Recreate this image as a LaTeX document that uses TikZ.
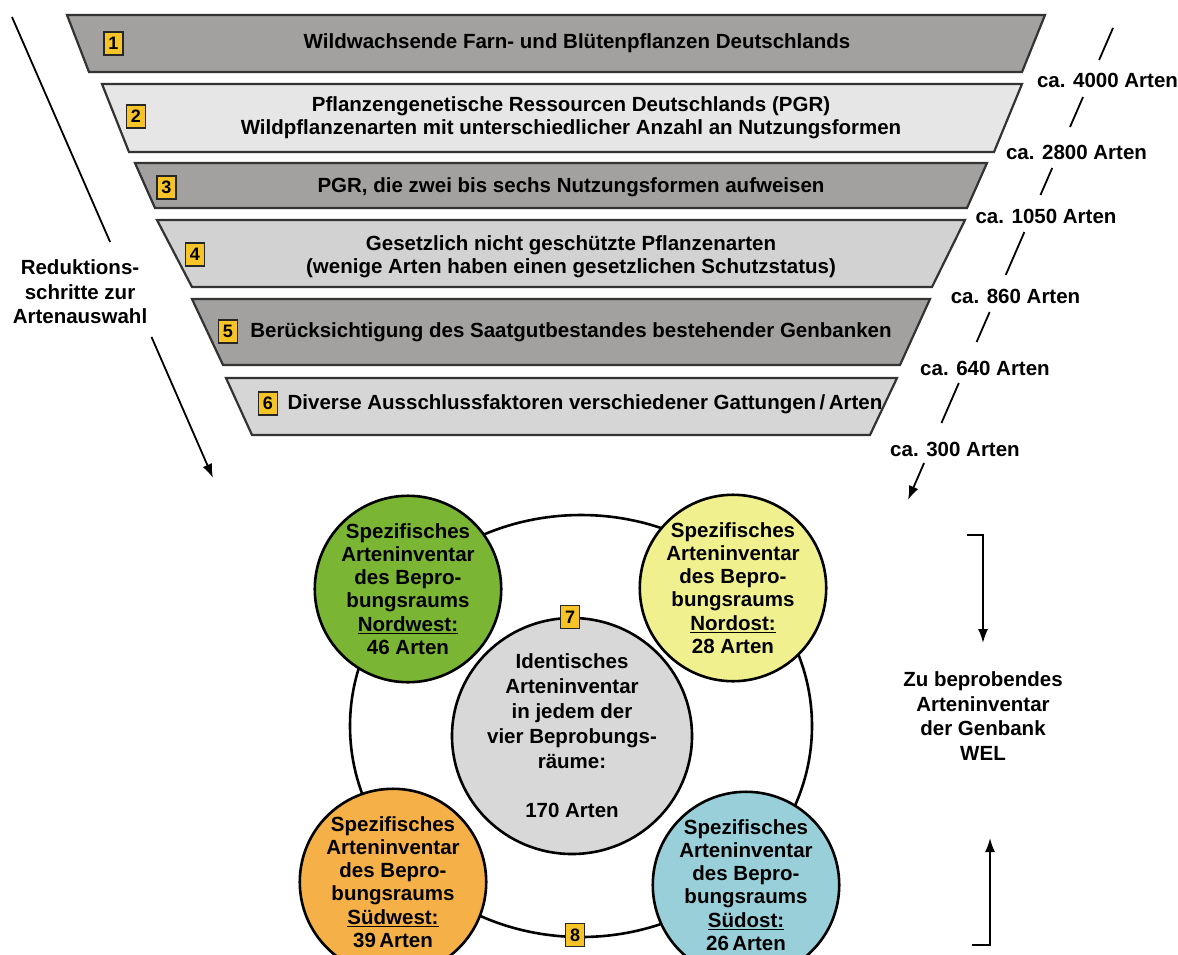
\documentclass[tikz,border=0pt]{standalone}
\usepackage{fontspec}
\setmainfont{Liberation Sans}
\usepackage{xcolor}
\usetikzlibrary{calc,
	positioning,
	shapes,
	arrows.meta}

\definecolor{banddark}{HTML}{A3A1A0}
\definecolor{bandlight}{HTML}{E6E6E6}
\definecolor{bandmid}{HTML}{D2D2D2}
\definecolor{bandpale}{HTML}{D6D6D6}
\definecolor{boxyellow}{HTML}{F7C428}
\definecolor{nwgreen}{HTML}{7AB534}
\definecolor{neyellow}{HTML}{F1F08E}
\definecolor{sworange}{HTML}{F5B047}
\definecolor{seblue}{HTML}{98CFD8}
\definecolor{commongray}{HTML}{D8D8D8}

\tikzset{
	band/.style={draw=black!80, line width=2.2pt, line join=miter},
	bandtext/.style={align=center, inner sep=0pt, font=\bfseries\fontsize{20.5}{23}\selectfont},
	sidetext/.style={align=center, inner sep=0pt, font=\bfseries\fontsize{20.5}{24.5}\selectfont},
	numbox/.style={draw=black!85, line width=1.8pt, fill=boxyellow, minimum width=19pt, minimum height=23pt, inner sep=0pt, font=\bfseries\fontsize{18}{18}\selectfont},
	region/.style={circle, draw=black, line width=2.6pt, align=center, inner sep=0pt, font=\bfseries\fontsize{20.5}{23.2}\selectfont},
	guide/.style={draw=black, line width=1.8pt},
	flow/.style={-{Latex[length=14pt,width=10pt]}}
}

\begin{document}
\begin{tikzpicture}[x=1pt, y=-1pt]
                        \useasboundingbox (0,0) rectangle (1178,954);
                        \clip (0,0) rectangle (1178,954);

                        \draw [band, fill=banddark] (67,15) -- (1045,15) -- (1022,72) -- (89,72) -- cycle;
                        \draw [band, fill=bandlight] (102,84) -- (1022,84) -- (994,152) -- (129,152) -- cycle;
                        \draw [band, fill=banddark] (135,163) -- (987,163) -- (967,208) -- (155,208) -- cycle;
                        \draw [band, fill=bandmid] (157,220) -- (965,220) -- (932,287) -- (192,287) -- cycle;
                        \draw [band, fill=banddark] (192,299) -- (930,299) -- (900,365) -- (223,365) -- cycle;
                        \draw [band, fill=bandpale] (226,378) -- (897,378) -- (870,435) -- (252,435) -- cycle;

                        \node (wild) [bandtext] at (577,43) {Wildwachsende Farn- und Blütenpflanzen Deutschlands};
                        \node (pgr) [bandtext] at (571,118) {Pflanzengenetische Ressourcen Deutschlands (PGR)\\Wildpflanzenarten mit unterschiedlicher Anzahl an Nutzungsformen};
                        \node (nutzung) [bandtext] at (571,187) {PGR, die zwei bis sechs Nutzungsformen aufweisen};
                        \node (schutz) [bandtext] at (571,257) {Gesetzlich nicht geschützte Pflanzenarten\\(wenige Arten haben einen gesetzlichen Schutzstatus)};
                        \node (genbank) [bandtext] at (571,332) {Berücksichtigung des Saatgutbestandes bestehender Genbanken};
                        \node (ausschluss) [bandtext] at (585,404) {Diverse Ausschlussfaktoren verschiedener Gattungen\,/\,Arten};

                        \node (num1) [numbox] at (113.5,43.5) {1};
                        \node (num2) [numbox] at (136,116.5) {2};
                        \node (num3) [numbox] at (166.5,187.5) {3};
                        \node (num4) [numbox] at (195,254.5) {4};
                        \node (num5) [numbox] at (228,331.5) {5};
                        \node (num6) [numbox] at (268,403.5) {6};

                        \node (reduktion) [sidetext] at (80,292) {Reduktions-\\schritte zur\\Artenauswahl};
                        \coordinate (ltop) at (12,17);
                        \coordinate (lbot) at (213,478);
                        \draw [guide] (ltop) -- ($(ltop)!0.488!(lbot)$);
                        \draw [guide, flow] ($(ltop)!0.694!(lbot)$) -- (lbot);

                        \node (ca4000) [sidetext] at (1107.5,80) {ca. 4000 Arten};
                        \node (ca2800) [sidetext] at (1076.5,152) {ca. 2800 Arten};
                        \node (ca1050) [sidetext] at (1046,216) {ca. 1050 Arten};
                        \node (ca860) [sidetext] at (1015.5,296) {ca. 860 Arten};
                        \node (ca640) [sidetext] at (985,368) {ca. 640 Arten};
                        \node (ca300) [sidetext] at (955,449) {ca. 300 Arten};
                        \coordinate (rtop) at (1113,28);
                        \coordinate (rbot) at (908,500);
                        \draw [guide] (rtop) -- ($(rtop)!0.0678!(rbot)$);
                        \draw [guide] ($(rtop)!0.1462!(rbot)$) -- ($(rtop)!0.2097!(rbot)$);
                        \draw [guide] ($(rtop)!0.2966!(rbot)$) -- ($(rtop)!0.3538!(rbot)$);
                        \draw [guide] ($(rtop)!0.4322!(rbot)$) -- ($(rtop)!0.5233!(rbot)$);
                        \draw [guide] ($(rtop)!0.6017!(rbot)$) -- ($(rtop)!0.6653!(rbot)$);
                        \draw [guide] ($(rtop)!0.7521!(rbot)$) -- ($(rtop)!0.8369!(rbot)$);
                        \draw [guide, flow] ($(rtop)!0.9216!(rbot)$) -- (rbot);

                        \node (ring) [ellipse, draw=black, line width=2.6pt, minimum width=462pt, minimum height=422pt] at (581,726) {};
                        \node (nordwest) [region, fill=nwgreen, minimum size=184pt] at (408,589) {Spezifisches\\Arteninventar\\des Bepro-\\bungsraums\\\underline{Nordwest:}\\46 Arten};
                        \node (nordost) [region, fill=neyellow, minimum size=178pt] at (733,588) {Spezifisches\\Arteninventar\\des Bepro-\\bungsraums\\\underline{Nordost:}\\28 Arten};
                        \node (suedwest) [region, fill=sworange, minimum size=176pt] at (393,882) {Spezifisches\\Arteninventar\\des Bepro-\\bungsraums\\\underline{Südwest:}\\39\,Arten};
                        \node (suedost) [region, fill=seblue, minimum size=176pt] at (746,885) {Spezifisches\\Arteninventar\\des Bepro-\\bungsraums\\\underline{Südost:}\\26\,Arten};
                        \node (gemeinsam) [ellipse, draw=black, line width=2.6pt, fill=commongray, minimum width=220pt, minimum height=236pt, align=center, inner sep=0pt, font=\bfseries\fontsize{20.5}{24.8}\selectfont] at (572,736) {Identisches\\Arteninventar\\in jedem der\\vier Beprobungs-\\räume:\\[24.8pt]170 Arten};
                        \node (num7) [numbox] at (570,617) {7};
                        \node (num8) [numbox] at (575,935) {8};

                        \node (wel) [sidetext] at (983,716) {Zu beprobendes\\Arteninventar\\der Genbank\\WEL};
                        \coordinate (welabove) at (967,535);
                        \coordinate (welabovetip) at (983,643);
                        \coordinate (welbelow) at (972,945);
                        \coordinate (welbelowtip) at (990,838);
                        \draw [guide, flow] (welabove) -| (welabovetip);
                        \draw [guide, flow] (welbelow) -| (welbelowtip);
                    \end{tikzpicture}
\end{document}
